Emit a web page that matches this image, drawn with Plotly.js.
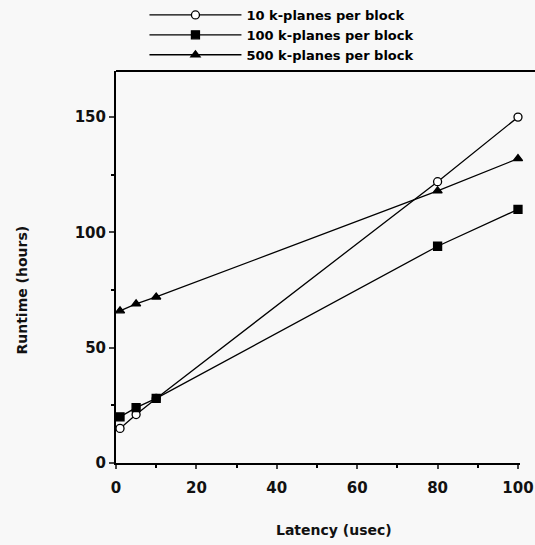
<!DOCTYPE html>
<html><head><meta charset="utf-8">
<script src="https://cdn.plot.ly/plotly-3.0.1.min.js"></script>
<style>body{margin:0;background:#f8f8f8;}</style>
</head><body>
<div id="chart" style="width:535px;height:545px;"></div>
<script>
const latency = [1, 5, 10, 80, 100];
const names = ["10 k-planes per block", "100 k-planes per block", "500 k-planes per block"];
const runtime10 = [15, 21, 28, 122, 150];
const runtime100 = [20, 24, 28, 94, 110];
const runtime500 = [66, 69, 72, 118, 132];
const xTicks = [0, 20, 40, 60, 80, 100];
const yTicks = [0, 50, 100, 150];
const xTitle = "Latency (usec)";
const yTitle = "Runtime (hours)";

const FAM = "DejaVu Sans, sans-serif";
const mk = (y, name, sym, fill) => ({
  x: latency, y: y, name: name, type: "scatter", mode: "lines+markers",
  line: {color: "#000", width: 1.3},
  marker: {symbol: sym, size: 8, color: fill, line: {color: "#000", width: 1.3}},
  cliponaxis: false
});
const data = [
  mk(runtime10, names[0], "circle", "#fff"),
  mk(runtime100, names[1], "square", "#000"),
  mk(runtime500, names[2], "triangle-up", "#000")
];
const layout = {
  width: 535, height: 545,
  paper_bgcolor: "#f8f8f8", plot_bgcolor: "#f8f8f8",
  margin: {l: 116, r: 15, t: 71, b: 82, autoexpand: false},
  font: {family: FAM, size: 14, color: "#111", weight: "bold"},
  showlegend: true,
  legend: {x: 0.27, y: 1.0, yref: "container", xref: "container", xanchor: "left", yanchor: "top",
           bgcolor: "rgba(0,0,0,0)", itemwidth: 92, tracegroupgap: 0,
           font: {family: FAM, size: 13, color: "#000", weight: "bold"}},
  xaxis: {range: [0, 100.5], tickvals: xTicks, ticks: "outside", ticklen: 4, tickwidth: 1.5,
          ticklabelstandoff: 6,
          showline: true, linewidth: 2, linecolor: "#000", showgrid: false, zeroline: false,
          minor: {dtick: 10, ticks: "outside", ticklen: 3, tickcolor: "#000"},
          tickfont: {size: 15, weight: "bold"}},
  yaxis: {range: [0, 170], tickvals: yTicks, ticks: "outside", ticklen: 5, tickwidth: 1.5,
          showline: true, linewidth: 2, linecolor: "#000", showgrid: false, zeroline: false,
          minor: {dtick: 25, ticks: "outside", ticklen: 3, tickcolor: "#000"},
          tickfont: {size: 15, weight: "bold"}},
  annotations: [
    {text: xTitle, xref: "paper", yref: "paper", x: 0.54, y: -0.17, xanchor: "center", yanchor: "middle",
     showarrow: false, font: {size: 14, weight: "bold", color: "#111"}},
    {text: yTitle, xref: "paper", yref: "paper", x: -0.235, y: 0.44, xanchor: "center", yanchor: "middle",
     textangle: -90, showarrow: false, font: {size: 14, weight: "bold", color: "#111"}}
  ],
  shapes: [{type: "line", xref: "paper", yref: "paper", x0: 0, x1: 1.05, y0: 1, y1: 1,
            line: {color: "#000", width: 2}}]
};
Plotly.newPlot("chart", data, layout, {displayModeBar: false});
</script>
</body></html>
